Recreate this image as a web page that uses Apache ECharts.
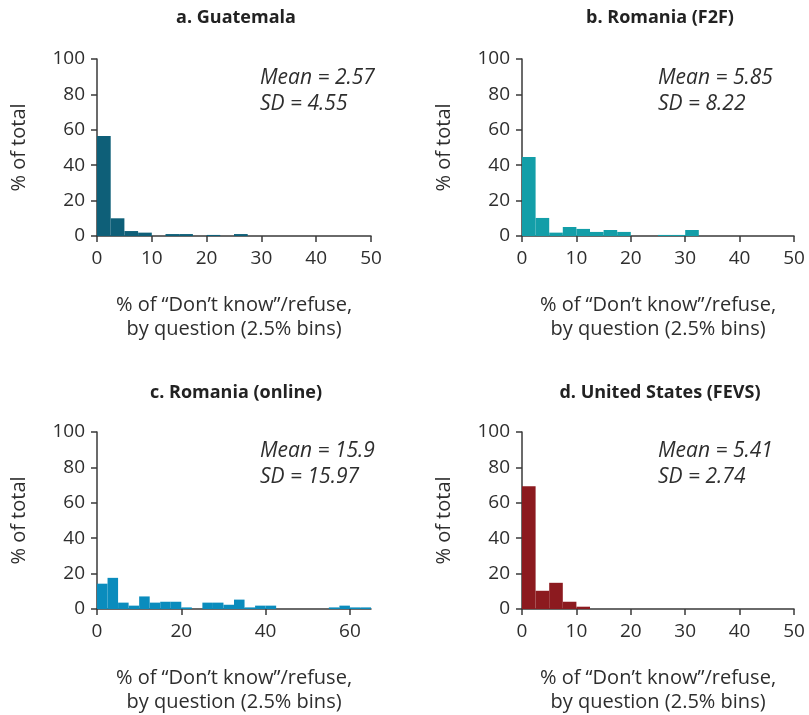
<!DOCTYPE html>
<html>
<head>
<meta charset="utf-8">
<script src="https://cdn.jsdelivr.net/npm/echarts@6/dist/echarts.min.js"></script>
<style>html,body{margin:0;padding:0;background:#fff}#c{width:809px;height:715px}</style>
</head>
<body>
<div id="c"></div>
<script>
// ---- data ----
const binWidth = 2.5;
const panelTitles = ['a. Guatemala', 'b. Romania (F2F)', 'c. Romania (online)', 'd. United States (FEVS)'];
const guatemala = [56.5, 10, 2.8, 1.9, 0, 1.1, 1.1, 0, 0.6, 0, 1.1];
const romaniaF2F = [44.6, 10.2, 1.9, 5.1, 4.0, 2.3, 3.4, 2.3, 0, 0, 0.6, 0.6, 3.4];
const romaniaOnline = [14.3, 17.6, 3.6, 1.9, 7.1, 3.6, 4.1, 4.1, 0.9, 0, 3.6, 3.6, 2.4, 5.3, 0.9, 1.9, 1.9, 0, 0, 0, 0, 0, 0.9, 1.9, 0.9, 0.9];
const fevs = [69.4, 10.3, 14.8, 4.1, 1.3];
const means = ['2.57', '5.85', '15.9', '5.41'];
const sds = ['4.55', '8.22', '15.97', '2.74'];
const xMax = [50, 50, 65, 50];
const xInterval = [10, 10, 20, 10];
const yTicks = [0, 20, 40, 60, 80, 100];
const xName = '% of \u201cDon\u2019t know\u201d/refuse,\nby question (2.5% bins)';
const yName = '% of total';
const colors = ['#0e5f78', '#139ea8', '#0a8cbd', '#8c1a1f'];
const allData = [guatemala, romaniaF2F, romaniaOnline, fevs];

// ---- layout ----
const FONT = 'Open Sans';
const grids = [
  {left: 97, top: 59, width: 274, height: 177},
  {left: 522, top: 59, width: 272, height: 177},
  {left: 97, top: 432, width: 274, height: 177},
  {left: 522, top: 432, width: 272, height: 177}
];
const axisColor = '#3a3a3a';
const textColor = '#2e2e2e';

const chart = echarts.init(document.getElementById('c'));
const option = {
  animation: false,
  backgroundColor: '#fff',
  title: [], grid: [], xAxis: [], yAxis: [], series: [], graphic: []
};
grids.forEach((g, i) => {
  option.grid.push(Object.assign({containLabel: false}, g));
  option.title.push({
    text: panelTitles[i], left: g.left + g.width / 2 - 3, top: (i < 2 ? 4 : 379), textAlign: 'center',
    textStyle: {fontFamily: FONT, fontWeight: 'bold', fontSize: 18, color: '#222'}
  });
  option.xAxis.push({
    type: 'value', gridIndex: i, min: 0, max: xMax[i], interval: xInterval[i],
    splitLine: {show: false},
    axisLine: {show: true, lineStyle: {color: axisColor, width: 1.5}},
    axisTick: {show: true, length: 6, lineStyle: {color: axisColor, width: 1.5}},
    axisLabel: {fontFamily: FONT, fontSize: 19, color: textColor, margin: 13, showMaxLabel: xMax[i] % xInterval[i] === 0},
    name: xName, nameLocation: 'middle', nameGap: 57,
    nameTextStyle: {fontFamily: FONT, fontSize: 20, color: textColor, lineHeight: 24, verticalAlign: 'top'}
  });
  option.yAxis.push({
    type: 'value', gridIndex: i, min: 0, max: 100, interval: 20,
    splitLine: {show: false},
    axisLine: {show: true, lineStyle: {color: axisColor, width: 1.5}},
    axisTick: {show: true, length: 6, lineStyle: {color: axisColor, width: 1.5}},
    axisLabel: {fontFamily: FONT, fontSize: 19, color: textColor, margin: 12},
    name: yName, nameLocation: 'middle', nameGap: 68, nameRotate: 90,
    nameTextStyle: {fontFamily: FONT, fontSize: 20, color: textColor}
  });
  const data = allData[i].map((v, k) => [k * binWidth, (k + 1) * binWidth, v]);
  option.series.push({
    type: 'custom', xAxisIndex: i, yAxisIndex: i, data: data,
    encode: {x: [0, 1], y: 2},
    renderItem: function (params, api) {
      const h = api.value(2);
      if (!h) return null;
      const p0 = api.coord([api.value(0), h]);
      const p1 = api.coord([api.value(1), 0]);
      return {type: 'rect', shape: {x: p0[0], y: p0[1], width: p1[0] - p0[0], height: p1[1] - p0[1]},
        style: {fill: colors[i]}};
    }
  });
  option.graphic.push({
    type: 'text', left: (i % 2 ? 658 : 260), top: (i < 2 ? 65 : 438),
    style: {text: 'Mean = ' + means[i] + '\nSD = ' + sds[i], font: 'italic 21px ' + FONT, fill: textColor, lineHeight: 26}
  });
});
chart.setOption(option);
</script>
</body>
</html>
